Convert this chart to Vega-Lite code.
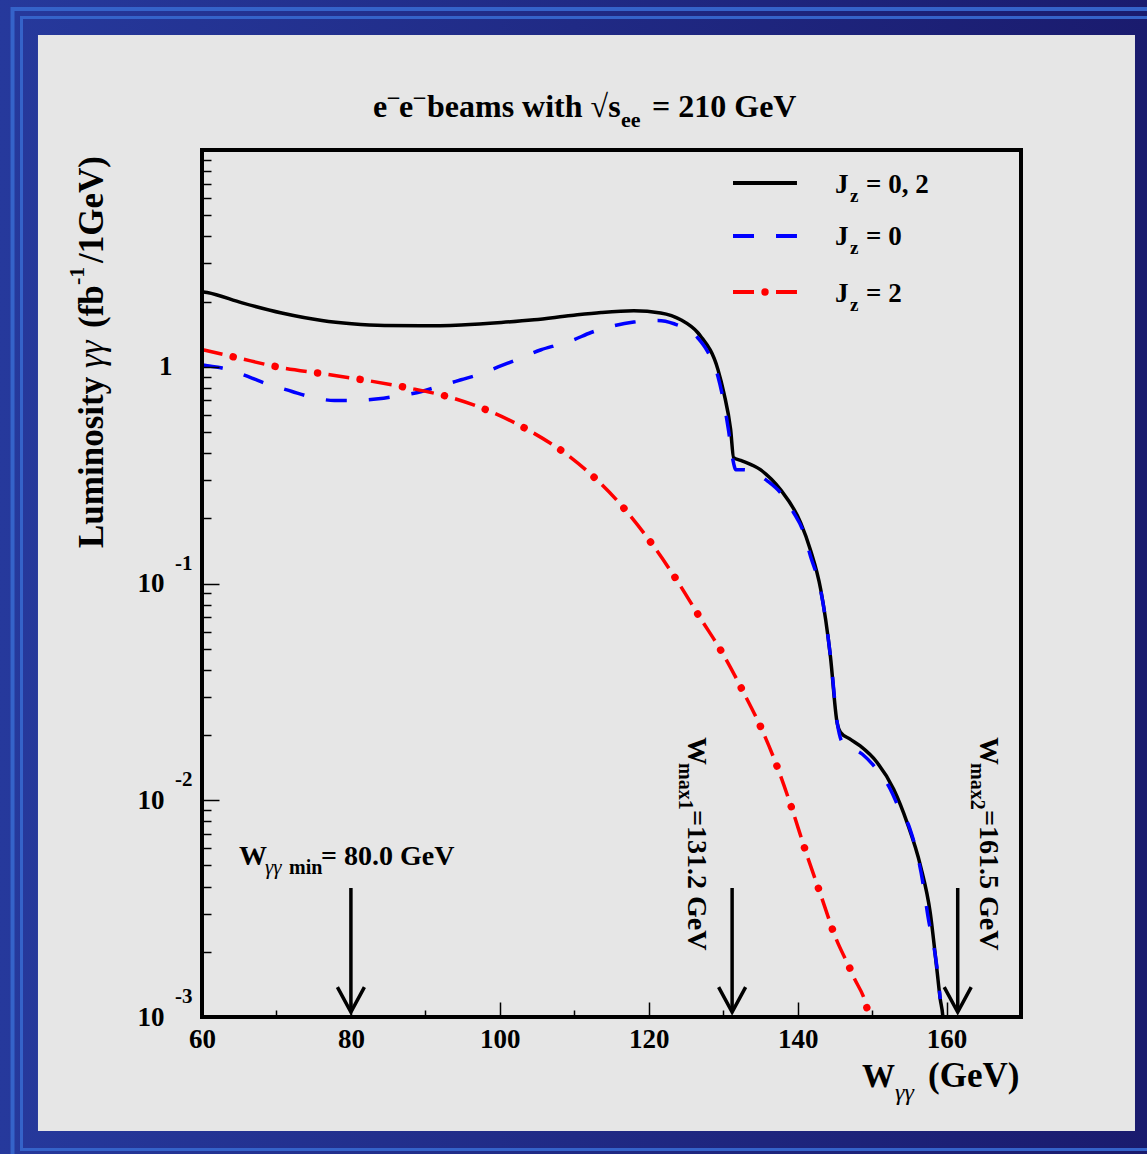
{
  "$schema": "https://vega.github.io/schema/vega-lite/v6.json",
  "width": 819,
  "height": 867,
  "autosize": {"type": "none"},
  "padding": {"left": 202, "top": 150, "right": 126, "bottom": 137},
  "background": "#222a88",
  "view": {"stroke": null},
  "config": {
    "axis": {"labelFont": "Liberation Serif", "labelFontWeight": "bold", "labelColor": "black", "tickColor": "black"},
    "text": {"font": "Liberation Serif", "fontWeight": "bold", "align": "left", "baseline": "alphabetic", "fill": "black"}
  },
  "datasets": {
    "curves": [
      {"w": 60, "lum": 2.22, "s": "J02"}, {"w": 60.7, "lum": 2.2, "s": "J02"}, {"w": 65.4, "lum": 1.97, "s": "J02"}, {"w": 70.7, "lum": 1.77, "s": "J02"}, {"w": 76.1, "lum": 1.635, "s": "J02"}, {"w": 80.1, "lum": 1.58, "s": "J02"}, {"w": 84.5, "lum": 1.55, "s": "J02"}, {"w": 89.5, "lum": 1.545, "s": "J02"}, {"w": 94.8, "lum": 1.56, "s": "J02"}, {"w": 100.2, "lum": 1.6, "s": "J02"}, {"w": 104.6, "lum": 1.647, "s": "J02"}, {"w": 109.6, "lum": 1.724, "s": "J02"}, {"w": 113.6, "lum": 1.78, "s": "J02"}, {"w": 118.0, "lum": 1.813, "s": "J02"}, {"w": 121.6, "lum": 1.77, "s": "J02"}, {"w": 124.3, "lum": 1.647, "s": "J02"}, {"w": 126.6, "lum": 1.435, "s": "J02"}, {"w": 127.0, "lum": 1.38, "s": "J02"}, {"w": 129.3, "lum": 0.97, "s": "J02"}, {"w": 130.1, "lum": 0.756, "s": "J02"}, {"w": 131.0, "lum": 0.513, "s": "J02"}, {"w": 131.4, "lum": 0.381, "s": "J02"}, {"w": 132.35, "lum": 0.37, "s": "J02"}, {"w": 135.0, "lum": 0.335, "s": "J02"}, {"w": 137.7, "lum": 0.271, "s": "J02"}, {"w": 140.4, "lum": 0.191, "s": "J02"}, {"w": 141.7, "lum": 0.1435, "s": "J02"}, {"w": 143.1, "lum": 0.0938, "s": "J02"}, {"w": 144.4, "lum": 0.0462, "s": "J02"}, {"w": 145.3, "lum": 0.0228, "s": "J02"}, {"w": 145.75, "lum": 0.0206, "s": "J02"}, {"w": 147.1, "lum": 0.0191, "s": "J02"}, {"w": 148.4, "lum": 0.0178, "s": "J02"}, {"w": 150.7, "lum": 0.0149, "s": "J02"}, {"w": 152.9, "lum": 0.01124, "s": "J02"}, {"w": 154.7, "lum": 0.00789, "s": "J02"}, {"w": 156.5, "lum": 0.00498, "s": "J02"}, {"w": 157.8, "lum": 0.00304, "s": "J02"}, {"w": 158.7, "lum": 0.00166, "s": "J02"}, {"w": 159.15, "lum": 0.00121, "s": "J02"}, {"w": 159.5, "lum": 0.00101, "s": "J02"}, {"w": 159.7, "lum": 0.0008, "s": "J02"},
      {"w": 60, "lum": 1.02, "s": "J0"}, {"w": 60.7, "lum": 1.011, "s": "J0"}, {"w": 62.7, "lum": 0.986, "s": "J0"}, {"w": 66.7, "lum": 0.887, "s": "J0"}, {"w": 68.4, "lum": 0.841, "s": "J0"}, {"w": 72.1, "lum": 0.769, "s": "J0"}, {"w": 74.3, "lum": 0.73, "s": "J0"}, {"w": 77.8, "lum": 0.699, "s": "J0"}, {"w": 80.1, "lum": 0.699, "s": "J0"}, {"w": 83.7, "lum": 0.712, "s": "J0"}, {"w": 85.9, "lum": 0.73, "s": "J0"}, {"w": 89.5, "lum": 0.769, "s": "J0"}, {"w": 91.75, "lum": 0.811, "s": "J0"}, {"w": 94.8, "lum": 0.871, "s": "J0"}, {"w": 97.1, "lum": 0.919, "s": "J0"}, {"w": 100.2, "lum": 1.011, "s": "J0"}, {"w": 102.5, "lum": 1.085, "s": "J0"}, {"w": 105.55, "lum": 1.198, "s": "J0"}, {"w": 107.8, "lum": 1.263, "s": "J0"}, {"w": 109.6, "lum": 1.318, "s": "J0"}, {"w": 112.25, "lum": 1.439, "s": "J0"}, {"w": 115.3, "lum": 1.545, "s": "J0"}, {"w": 118.0, "lum": 1.607, "s": "J0"}, {"w": 121.2, "lum": 1.635, "s": "J0"}, {"w": 123.4, "lum": 1.579, "s": "J0"}, {"w": 126.6, "lum": 1.357, "s": "J0"}, {"w": 127.9, "lum": 1.176, "s": "J0"}, {"w": 129.3, "lum": 0.902, "s": "J0"}, {"w": 130.1, "lum": 0.68, "s": "J0"}, {"w": 130.7, "lum": 0.513, "s": "J0"}, {"w": 131.3, "lum": 0.373, "s": "J0"}, {"w": 131.7, "lum": 0.335, "s": "J0"}, {"w": 132.75, "lum": 0.335, "s": "J0"}, {"w": 136.0, "lum": 0.296, "s": "J0"}, {"w": 137.7, "lum": 0.262, "s": "J0"}, {"w": 139.45, "lum": 0.2125, "s": "J0"}, {"w": 140.66, "lum": 0.1774, "s": "J0"}, {"w": 141.73, "lum": 0.1336, "s": "J0"}, {"w": 143.07, "lum": 0.0938, "s": "J0"}, {"w": 144.41, "lum": 0.0462, "s": "J0"}, {"w": 145.35, "lum": 0.0224, "s": "J0"}, {"w": 146.0, "lum": 0.0185, "s": "J0"}, {"w": 148.7, "lum": 0.0163, "s": "J0"}, {"w": 150.4, "lum": 0.0142, "s": "J0"}, {"w": 152.45, "lum": 0.01124, "s": "J0"}, {"w": 153.5, "lum": 0.00938, "s": "J0"}, {"w": 155.1, "lum": 0.00735, "s": "J0"}, {"w": 156.9, "lum": 0.00402, "s": "J0"}, {"w": 157.5, "lum": 0.00292, "s": "J0"}, {"w": 158.5, "lum": 0.00191, "s": "J0"}, {"w": 158.9, "lum": 0.0015, "s": "J0"}, {"w": 159.15, "lum": 0.00121, "s": "J0"},
      {"w": 60, "lum": 1.2, "s": "J2"}, {"w": 60.7, "lum": 1.185, "s": "J2"}, {"w": 64.9, "lum": 1.097, "s": "J2"}, {"w": 70.5, "lum": 0.993, "s": "J2"}, {"w": 76.3, "lum": 0.928, "s": "J2"}, {"w": 82.1, "lum": 0.865, "s": "J2"}, {"w": 87.8, "lum": 0.798, "s": "J2"}, {"w": 93.5, "lum": 0.72, "s": "J2"}, {"w": 99.0, "lum": 0.616, "s": "J2"}, {"w": 104.2, "lum": 0.502, "s": "J2"}, {"w": 109.2, "lum": 0.389, "s": "J2"}, {"w": 116.9, "lum": 0.2177, "s": "J2"}, {"w": 120.5, "lum": 0.1512, "s": "J2"}, {"w": 123.8, "lum": 0.1032, "s": "J2"}, {"w": 126.9, "lum": 0.0695, "s": "J2"}, {"w": 130.0, "lum": 0.0471, "s": "J2"}, {"w": 132.7, "lum": 0.0316, "s": "J2"}, {"w": 135.3, "lum": 0.0208, "s": "J2"}, {"w": 137.5, "lum": 0.01356, "s": "J2"}, {"w": 139.4, "lum": 0.00878, "s": "J2"}, {"w": 141.2, "lum": 0.00564, "s": "J2"}, {"w": 143.1, "lum": 0.00366, "s": "J2"}, {"w": 145.0, "lum": 0.00237, "s": "J2"}, {"w": 147.45, "lum": 0.00155, "s": "J2"}, {"w": 149.55, "lum": 0.00101, "s": "J2"}, {"w": 149.7, "lum": 0.00095, "s": "J2"}
    ],
    "arrows": [{"w": 80}, {"w": 131.2}, {"w": 161.5}],
    "expo": [{"v": 0.1, "e": "-1"}, {"v": 0.01, "e": "-2"}, {"v": 0.001, "e": "-3"}],
    "one": [{}]
  },
  "layer": [
    {
      "data": {"name": "one"},
      "mark": {"type": "rect", "fill": {"gradient": "linear", "x1": 0, "y1": 0, "x2": 1, "y2": 0, "stops": [{"offset": 0, "color": "#26399c"}, {"offset": 1, "color": "#1a1b6e"}]}},
      "encoding": {
        "x": {"datum": 32.87, "type": "quantitative"}, "x2": {"datum": 186.92},
        "y": {"datum": 49.2, "type": "quantitative", "scale": {"type": "log"}}, "y2": {"datum": 0.0002333}
      }
    },
    {
      "data": {"name": "one"},
      "mark": {"type": "rect", "fillOpacity": 0, "stroke": "#3563c9", "strokeWidth": 4},
      "encoding": {
        "x": {"datum": 34.55, "type": "quantitative"}, "x2": {"datum": 188.67},
        "y": {"datum": 44.73, "type": "quantitative", "scale": {"type": "log"}}, "y2": {"datum": 0.0001968}
      }
    },
    {
      "data": {"name": "one"},
      "mark": {"type": "rect", "fillOpacity": 0, "stroke": "#3563c9", "strokeWidth": 3},
      "encoding": {
        "x": {"datum": 35.757, "type": "quantitative"}, "x2": {"datum": 188.67},
        "y": {"datum": 40.86, "type": "quantitative", "scale": {"type": "log"}}, "y2": {"datum": 0.0002447}
      }
    },
    {
      "data": {"name": "one"},
      "mark": {"type": "rect", "fill": "#e6e6e6"},
      "encoding": {
        "x": {"datum": 37.97, "type": "quantitative"}, "x2": {"datum": 185.31},
        "y": {"datum": 33.93, "type": "quantitative", "scale": {"type": "log"}}, "y2": {"datum": 0.0002978}
      }
    },
    {
      "data": {"name": "curves"},
      "transform": [{"filter": "datum.s === 'J02'"}],
      "mark": {"type": "line", "color": "black", "strokeWidth": 3.5, "interpolate": "monotone", "clip": true},
      "encoding": {
        "x": {"field": "w", "type": "quantitative", "scale": {"domain": [60, 170], "nice": false, "zero": false},
          "axis": {
            "values": [60, 65, 70, 75, 80, 85, 90, 95, 100, 105, 110, 115, 120, 125, 130, 135, 140, 145, 150, 155, 160, 165, 170],
            "labelExpr": "datum.value % 20 === 0 ? datum.label : ''",
            "tickSize": {"condition": {"test": "datum.value % 20 === 0", "value": -15}, "value": -7},
            "tickWidth": 1.5,
            "labelPadding": 24, "labelBaseline": "top", "labelFontSize": 27, "labelOverlap": false, "labelFlush": false,
            "domain": false, "grid": false, "title": null, "zindex": 1
          }},
        "y": {"field": "lum", "type": "quantitative", "scale": {"type": "log", "domain": [0.001, 10], "nice": false},
          "axis": {
            "values": [0.001, 0.002, 0.003, 0.004, 0.005, 0.006, 0.007, 0.008, 0.009, 0.01, 0.02, 0.03, 0.04, 0.05, 0.06, 0.07, 0.08, 0.09, 0.1, 0.2, 0.3, 0.4, 0.5, 0.6, 0.7, 0.8, 0.9, 1, 2, 3, 4, 5, 6, 7, 8, 9, 10],
            "labelExpr": "datum.value === 1 ? '1' : (datum.value === 0.1 || datum.value === 0.01 || datum.value === 0.001) ? '10' : ''",
            "tickSize": {"condition": {"test": "datum.value === 1 || datum.value === 0.1 || datum.value === 0.01 || datum.value === 0.001 || datum.value === 10", "value": -17}, "value": -9},
            "tickWidth": 1.5,
            "labelPadding": {"condition": {"test": "datum.value === 1", "value": 47}, "value": 55},
            "labelAlign": "right", "labelBaseline": "middle", "labelFontSize": 27, "labelOverlap": false, "labelFlush": false,
            "domain": false, "grid": false, "title": null, "zindex": 1
          }}
      }
    },
    {
      "data": {"name": "curves"},
      "transform": [{"filter": "datum.s === 'J0'"}],
      "mark": {"type": "line", "color": "#0000ff", "strokeWidth": 3.5, "strokeDash": [21, 22], "interpolate": "monotone", "clip": true},
      "encoding": {
        "x": {"field": "w", "type": "quantitative"},
        "y": {"field": "lum", "type": "quantitative", "scale": {"type": "log"}}
      }
    },
    {
      "data": {"name": "curves"},
      "transform": [{"filter": "datum.s === 'J2'"}],
      "mark": {"type": "line", "color": "#ff0000", "strokeWidth": 3.5, "strokeDash": [21, 22], "interpolate": "monotone", "clip": true},
      "encoding": {
        "x": {"field": "w", "type": "quantitative"},
        "y": {"field": "lum", "type": "quantitative", "scale": {"type": "log"}}
      }
    },
    {
      "data": {"name": "curves"},
      "transform": [{"filter": "datum.s === 'J2'"}],
      "mark": {"type": "line", "color": "#ff0000", "strokeWidth": 7.5, "strokeCap": "round", "strokeDash": [0.01, 42.99], "strokeDashOffset": 11, "interpolate": "monotone", "clip": true},
      "encoding": {
        "x": {"field": "w", "type": "quantitative"},
        "y": {"field": "lum", "type": "quantitative", "scale": {"type": "log"}}
      }
    },
    {
      "data": {"name": "arrows"},
      "mark": {"type": "rule", "color": "black", "strokeWidth": 3.5},
      "encoding": {
        "x": {"field": "w", "type": "quantitative"},
        "y": {"datum": 0.003937, "type": "quantitative", "scale": {"type": "log"}},
        "y2": {"datum": 0.001054}
      }
    },
    {
      "data": {"name": "arrows"},
      "mark": {"type": "point", "shape": "M-1,-1.85L0,0L1,-1.85", "filled": false, "stroke": "black", "strokeWidth": 3.5, "strokeJoin": "miter", "size": 729, "opacity": 1},
      "encoding": {
        "x": {"field": "w", "type": "quantitative"},
        "y": {"datum": 0.001054, "type": "quantitative", "scale": {"type": "log"}}
      }
    },
    {
      "data": {"name": "one"},
      "mark": {"type": "rect", "fillOpacity": 0, "stroke": "black", "strokeWidth": 4},
      "encoding": {
        "x": {"datum": 60, "type": "quantitative"}, "x2": {"datum": 170},
        "y": {"datum": 0.001, "type": "quantitative", "scale": {"type": "log"}}, "y2": {"datum": 10}
      }
    },
    {
      "data": {"name": "expo"},
      "mark": {"type": "text", "fontSize": 21, "baseline": "middle", "dx": -27, "dy": -20},
      "encoding": {
        "x": {"datum": 60, "type": "quantitative"},
        "y": {"field": "v", "type": "quantitative", "scale": {"type": "log"}},
        "text": {"field": "e"}
      }
    },
    {
      "data": {"name": "one"},
      "mark": {"type": "text", "text": "e", "fontSize": 32},
      "encoding": {"x": {"datum": 82.97, "type": "quantitative"}, "y": {"datum": 14.2, "type": "quantitative", "scale": {"type": "log"}}}
    },
    {
      "data": {"name": "one"},
      "mark": {"type": "text", "text": "¯", "dx": 15, "dy": -4, "fontSize": 22},
      "encoding": {"x": {"datum": 82.97, "type": "quantitative"}, "y": {"datum": 14.2, "type": "quantitative", "scale": {"type": "log"}}}
    },
    {
      "data": {"name": "one"},
      "mark": {"type": "text", "text": "e", "dx": 26, "fontSize": 32},
      "encoding": {"x": {"datum": 82.97, "type": "quantitative"}, "y": {"datum": 14.2, "type": "quantitative", "scale": {"type": "log"}}}
    },
    {
      "data": {"name": "one"},
      "mark": {"type": "text", "text": "¯", "dx": 41, "dy": -4, "fontSize": 22},
      "encoding": {"x": {"datum": 82.97, "type": "quantitative"}, "y": {"datum": 14.2, "type": "quantitative", "scale": {"type": "log"}}}
    },
    {
      "data": {"name": "one"},
      "mark": {"type": "text", "text": "beams with √s", "fontSize": 32},
      "encoding": {"x": {"datum": 90.22, "type": "quantitative"}, "y": {"datum": 14.2, "type": "quantitative", "scale": {"type": "log"}}}
    },
    {
      "data": {"name": "one"},
      "mark": {"type": "text", "text": "ee", "fontSize": 22},
      "encoding": {"x": {"datum": 116.28, "type": "quantitative"}, "y": {"datum": 12.77, "type": "quantitative", "scale": {"type": "log"}}}
    },
    {
      "data": {"name": "one"},
      "mark": {"type": "text", "text": "= 210 GeV", "fontSize": 32},
      "encoding": {"x": {"datum": 120.44, "type": "quantitative"}, "y": {"datum": 14.2, "type": "quantitative", "scale": {"type": "log"}}}
    },
    {
      "data": {"name": "one"},
      "mark": {"type": "text", "text": "Luminosity", "angle": -90, "fontSize": 35},
      "encoding": {"x": {"datum": 46.7, "type": "quantitative"}, "y": {"datum": 0.1458, "type": "quantitative", "scale": {"type": "log"}}}
    },
    {
      "data": {"name": "one"},
      "mark": {"type": "text", "text": "γγ", "angle": -90, "dx": 180, "fontSize": 35, "fontWeight": "normal", "fontStyle": "italic"},
      "encoding": {"x": {"datum": 46.7, "type": "quantitative"}, "y": {"datum": 0.1458, "type": "quantitative", "scale": {"type": "log"}}}
    },
    {
      "data": {"name": "one"},
      "mark": {"type": "text", "text": "(fb", "angle": -90, "dx": 220, "fontSize": 35},
      "encoding": {"x": {"datum": 46.7, "type": "quantitative"}, "y": {"datum": 0.1458, "type": "quantitative", "scale": {"type": "log"}}}
    },
    {
      "data": {"name": "one"},
      "mark": {"type": "text", "text": "-1", "angle": -90, "dx": 263, "dy": -19, "fontSize": 22},
      "encoding": {"x": {"datum": 46.7, "type": "quantitative"}, "y": {"datum": 0.1458, "type": "quantitative", "scale": {"type": "log"}}}
    },
    {
      "data": {"name": "one"},
      "mark": {"type": "text", "text": "/1GeV)", "angle": -90, "dx": 285, "fontSize": 35},
      "encoding": {"x": {"datum": 46.7, "type": "quantitative"}, "y": {"datum": 0.1458, "type": "quantitative", "scale": {"type": "log"}}}
    },
    {
      "data": {"name": "one"},
      "mark": {"type": "text", "text": "W", "fontSize": 33},
      "encoding": {"x": {"datum": 148.64, "type": "quantitative"}, "y": {"datum": 0.0004753, "type": "quantitative", "scale": {"type": "log"}}}
    },
    {
      "data": {"name": "one"},
      "mark": {"type": "text", "text": "γγ", "fontSize": 24, "fontWeight": "normal", "fontStyle": "italic"},
      "encoding": {"x": {"datum": 153.08, "type": "quantitative"}, "y": {"datum": 0.0004141, "type": "quantitative", "scale": {"type": "log"}}}
    },
    {
      "data": {"name": "one"},
      "mark": {"type": "text", "text": "(GeV)", "fontSize": 35},
      "encoding": {"x": {"datum": 157.51, "type": "quantitative"}, "y": {"datum": 0.0004753, "type": "quantitative", "scale": {"type": "log"}}}
    },
    {
      "data": {"name": "one"},
      "mark": {"type": "rule", "color": "black", "strokeWidth": 4},
      "encoding": {"x": {"datum": 131.32, "type": "quantitative"}, "x2": {"datum": 139.91}, "y": {"datum": 7.044, "type": "quantitative", "scale": {"type": "log"}}}
    },
    {
      "data": {"name": "one"},
      "mark": {"type": "rule", "color": "#0000ff", "strokeWidth": 4, "strokeDash": [21, 22]},
      "encoding": {"x": {"datum": 131.32, "type": "quantitative"}, "x2": {"datum": 139.91}, "y": {"datum": 4.011, "type": "quantitative", "scale": {"type": "log"}}}
    },
    {
      "data": {"name": "one"},
      "mark": {"type": "rule", "color": "#ff0000", "strokeWidth": 4, "strokeDash": [21, 22]},
      "encoding": {"x": {"datum": 131.32, "type": "quantitative"}, "x2": {"datum": 139.91}, "y": {"datum": 2.213, "type": "quantitative", "scale": {"type": "log"}}}
    },
    {
      "data": {"name": "one"},
      "mark": {"type": "point", "shape": "circle", "filled": true, "color": "#ff0000", "size": 55, "opacity": 1},
      "encoding": {"x": {"datum": 135.62, "type": "quantitative"}, "y": {"datum": 2.213, "type": "quantitative", "scale": {"type": "log"}}}
    },
    {
      "data": {"name": "one"},
      "mark": {"type": "text", "text": "J", "fontSize": 27},
      "encoding": {"x": {"datum": 145.02, "type": "quantitative"}, "y": {"datum": 6.333, "type": "quantitative", "scale": {"type": "log"}}}
    },
    {
      "data": {"name": "one"},
      "mark": {"type": "text", "text": "z", "dx": 15, "dy": 9, "fontSize": 19},
      "encoding": {"x": {"datum": 145.02, "type": "quantitative"}, "y": {"datum": 6.333, "type": "quantitative", "scale": {"type": "log"}}}
    },
    {
      "data": {"name": "one"},
      "mark": {"type": "text", "text": "= 0, 2", "dx": 31, "fontSize": 27},
      "encoding": {"x": {"datum": 145.02, "type": "quantitative"}, "y": {"datum": 6.333, "type": "quantitative", "scale": {"type": "log"}}}
    },
    {
      "data": {"name": "one"},
      "mark": {"type": "text", "text": "J", "fontSize": 27},
      "encoding": {"x": {"datum": 145.02, "type": "quantitative"}, "y": {"datum": 3.645, "type": "quantitative", "scale": {"type": "log"}}}
    },
    {
      "data": {"name": "one"},
      "mark": {"type": "text", "text": "z", "dx": 15, "dy": 9, "fontSize": 19},
      "encoding": {"x": {"datum": 145.02, "type": "quantitative"}, "y": {"datum": 3.645, "type": "quantitative", "scale": {"type": "log"}}}
    },
    {
      "data": {"name": "one"},
      "mark": {"type": "text", "text": "= 0", "dx": 31, "fontSize": 27},
      "encoding": {"x": {"datum": 145.02, "type": "quantitative"}, "y": {"datum": 3.645, "type": "quantitative", "scale": {"type": "log"}}}
    },
    {
      "data": {"name": "one"},
      "mark": {"type": "text", "text": "J", "fontSize": 27},
      "encoding": {"x": {"datum": 145.02, "type": "quantitative"}, "y": {"datum": 1.989, "type": "quantitative", "scale": {"type": "log"}}}
    },
    {
      "data": {"name": "one"},
      "mark": {"type": "text", "text": "z", "dx": 15, "dy": 9, "fontSize": 19},
      "encoding": {"x": {"datum": 145.02, "type": "quantitative"}, "y": {"datum": 1.989, "type": "quantitative", "scale": {"type": "log"}}}
    },
    {
      "data": {"name": "one"},
      "mark": {"type": "text", "text": "= 2", "dx": 31, "fontSize": 27},
      "encoding": {"x": {"datum": 145.02, "type": "quantitative"}, "y": {"datum": 1.989, "type": "quantitative", "scale": {"type": "log"}}}
    },
    {
      "data": {"name": "one"},
      "mark": {"type": "text", "text": "W", "fontSize": 28},
      "encoding": {"x": {"datum": 64.97, "type": "quantitative"}, "y": {"datum": 0.005027, "type": "quantitative", "scale": {"type": "log"}}}
    },
    {
      "data": {"name": "one"},
      "mark": {"type": "text", "text": "γγ", "dx": 26, "dy": 9, "fontSize": 21, "fontWeight": "normal", "fontStyle": "italic"},
      "encoding": {"x": {"datum": 64.97, "type": "quantitative"}, "y": {"datum": 0.005027, "type": "quantitative", "scale": {"type": "log"}}}
    },
    {
      "data": {"name": "one"},
      "mark": {"type": "text", "text": "min", "dx": 50, "dy": 9, "fontSize": 20},
      "encoding": {"x": {"datum": 64.97, "type": "quantitative"}, "y": {"datum": 0.005027, "type": "quantitative", "scale": {"type": "log"}}}
    },
    {
      "data": {"name": "one"},
      "mark": {"type": "text", "text": "= 80.0 GeV", "dx": 82, "fontSize": 28},
      "encoding": {"x": {"datum": 64.97, "type": "quantitative"}, "y": {"datum": 0.005027, "type": "quantitative", "scale": {"type": "log"}}}
    },
    {
      "data": {"name": "one"},
      "mark": {"type": "text", "text": "W", "angle": 90, "fontSize": 28},
      "encoding": {"x": {"datum": 125.27, "type": "quantitative"}, "y": {"datum": 0.01958, "type": "quantitative", "scale": {"type": "log"}}}
    },
    {
      "data": {"name": "one"},
      "mark": {"type": "text", "text": "max1", "angle": 90, "dx": 26, "dy": 9, "fontSize": 20},
      "encoding": {"x": {"datum": 125.27, "type": "quantitative"}, "y": {"datum": 0.01958, "type": "quantitative", "scale": {"type": "log"}}}
    },
    {
      "data": {"name": "one"},
      "mark": {"type": "text", "text": "=131.2 GeV", "angle": 90, "dx": 73, "fontSize": 28},
      "encoding": {"x": {"datum": 125.27, "type": "quantitative"}, "y": {"datum": 0.01958, "type": "quantitative", "scale": {"type": "log"}}}
    },
    {
      "data": {"name": "one"},
      "mark": {"type": "text", "text": "W", "angle": 90, "fontSize": 28},
      "encoding": {"x": {"datum": 164.49, "type": "quantitative"}, "y": {"datum": 0.01958, "type": "quantitative", "scale": {"type": "log"}}}
    },
    {
      "data": {"name": "one"},
      "mark": {"type": "text", "text": "max2", "angle": 90, "dx": 26, "dy": 9, "fontSize": 20},
      "encoding": {"x": {"datum": 164.49, "type": "quantitative"}, "y": {"datum": 0.01958, "type": "quantitative", "scale": {"type": "log"}}}
    },
    {
      "data": {"name": "one"},
      "mark": {"type": "text", "text": "=161.5 GeV", "angle": 90, "dx": 73, "fontSize": 28},
      "encoding": {"x": {"datum": 164.49, "type": "quantitative"}, "y": {"datum": 0.01958, "type": "quantitative", "scale": {"type": "log"}}}
    }
  ]
}
